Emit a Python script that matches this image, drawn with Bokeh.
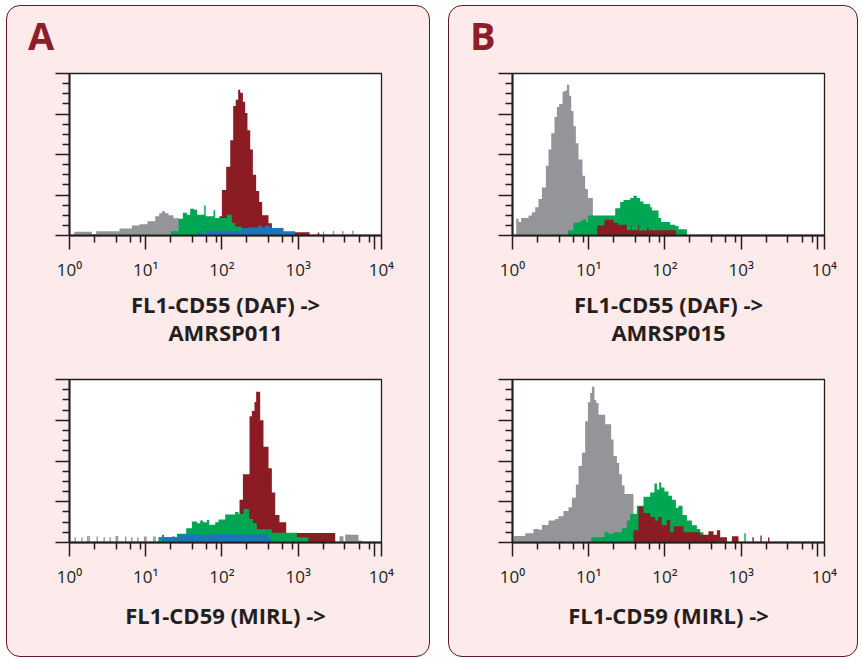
import numpy as np
from bokeh.plotting import figure
from bokeh.models import Range1d, FixedTicker, CustomJSTickFormatter, Column, Row, Div
from bokeh.embed import file_html
from bokeh.resources import INLINE

# ---------------------------------------------------------------- data
# histograms: log10(fluorescence) bin edges and event counts per bin
# Panel A (AMRSP011) - CD55
a55_gray_log = [0.062, 0.294, 0.350, 0.656, 0.818, 0.918, 1.023, 1.124, 1.176, 1.212, 1.255, 1.298, 1.364, 1.439]
a55_gray_n = [3.6, 1.5, 4.2, 6.8, 10, 11, 14, 19, 22, 24, 22, 20, 17]
a55_gray_tail_log = [3.331, 3.462, 3.585, 3.717]
a55_gray_tail_n = [4, 4.5, 4.5, 5]
a55_red_log = [1.967, 1.999, 2.055, 2.108, 2.147, 2.180, 2.212, 2.239, 2.274, 2.304, 2.334, 2.370,
               2.405, 2.448, 2.488, 2.527, 2.610, 2.654, 2.698, 3.148]
a55_red_n = [19, 45, 68, 94, 128, 134, 144, 141, 132, 121, 104, 85, 60, 44, 33, 20, 12, 6, 3.3]
a55_red_tail_log = [3.266]
a55_red_tail_n = [3]
a55_green_log = [1.330, 1.430, 1.487, 1.540, 1.583, 1.635, 1.675, 1.767, 1.786, 1.889, 1.911, 2.064, 2.130, 2.173, 2.261]
a55_green_n = [4.2, 16.6, 22.4, 20.5, 26.3, 25.5, 20.5, 29.6, 19, 25, 17.2, 20.5, 12.6, 9]
a55_blue_log = [1.692, 1.736, 1.802, 2.261, 2.348, 2.479, 2.523, 2.567, 2.632, 2.807, 2.960]
a55_blue_n = [4.5, 1.6, 4.6, 7.5, 8, 10, 8, 10, 7.5, 4.2]

# Panel A (AMRSP011) - CD59
a59_gray_tail_log = [0.075, 0.163, 0.240, 0.258, 0.363, 0.455, 0.534, 0.612, 0.630, 0.737, 0.818, 0.897, 0.985, 1.003, 1.105, 1.123]
a59_gray_tail_n = [5.2, 5.2, 6.5, 6.5, 6, 5.2, 5.2, 6.5, 6.5, 6, 5.2, 5.2, 6, 6, 6, 6]
a59_gray_log = [3.541, 3.593, 3.616, 3.681, 3.790, 3.835]
a59_gray_n = [6.2, 0, 7.8, 7.5, 2]
a59_red_log = [2.230, 2.274, 2.361, 2.392, 2.426, 2.448, 2.501, 2.544, 2.610, 2.654, 2.698, 2.754, 2.842, 3.485]
a59_red_n = [42, 67, 124, 129, 138, 148, 120, 94, 73, 49, 27, 20, 9.4]
a59_green_log = [1.167, 1.409, 1.530, 1.605, 1.671, 1.714, 1.753, 1.802, 1.832, 1.911, 1.954, 2.042, 2.173,
                 2.216, 2.282, 2.357, 2.405, 2.458, 2.654, 2.982, 3.134]
a59_green_n = [5.5, 8.5, 14, 20.5, 19, 21.5, 20, 22, 17.5, 20, 22.5, 27.5, 30, 28, 33, 23, 19, 13, 9.5, 5.2]
a59_blue_log = [1.212, 1.238, 1.343, 1.386, 1.426, 1.714, 1.845, 2.108, 2.610, 2.658]
a59_blue_n = [7.5, 4.5, 6, 4, 7.8, 7.2, 8, 7.8, 3.5]

# Panel B (AMRSP015) - CD55
b55_gray_log = [0.049, 0.079, 0.114, 0.210, 0.254, 0.298, 0.341, 0.386, 0.438, 0.472, 0.508, 0.551, 0.582,
                0.612, 0.656, 0.682, 0.713, 0.744, 0.770, 0.800, 0.831, 0.866, 0.918, 0.953, 0.989, 1.054]
b55_gray_n = [16.6, 13.3, 17.2, 19.8, 23, 28, 36, 47.5, 69, 85, 101, 117, 127, 130, 142, 143, 149, 138,
              123, 108, 91, 75, 59, 46, 37]
b55_green_log = [0.727, 0.800, 0.875, 0.918, 0.963, 0.989, 1.347, 1.412, 1.456, 1.544, 1.587, 1.631, 1.675,
                 1.718, 1.806, 1.828, 1.915, 1.950, 2.068, 2.134, 2.177, 2.287]
b55_green_n = [5.2, 12.7, 14, 16, 13.3, 19.8, 27, 33, 35, 37, 39.3, 37, 33.5, 31, 28, 24.7, 17.2, 13.3, 10.7, 9.4, 6.2]
b55_red_log = [1.111, 1.207, 1.325, 1.382, 1.500, 1.553, 1.566, 1.649, 1.662, 1.767, 1.784, 2.143]
b55_red_n = [10, 15.5, 12.7, 10.7, 5.2, 10, 5.2, 10.7, 5, 8, 5.2]

# Panel B (AMRSP015) - CD59
b59_gray_log = [0.013, 0.167, 0.275, 0.341, 0.386, 0.472, 0.560, 0.603, 0.669, 0.734, 0.779, 0.831, 0.866,
                0.910, 0.953, 0.989, 1.019, 1.041, 1.075, 1.098, 1.128, 1.216, 1.294, 1.325, 1.369, 1.399,
                1.435, 1.469, 1.587]
b59_gray_n = [6.5, 9, 13.3, 12.4, 17.2, 21.5, 23, 25.7, 31, 34.5, 44, 57, 75, 88, 119, 137.6, 146.7, 153,
              140, 137, 125.5, 116, 101, 85, 78, 67, 56, 47.5]
b59_green_log = [1.032, 1.207, 1.259, 1.325, 1.435, 1.500, 1.544, 1.631, 1.718, 1.806, 1.862, 1.894, 1.924,
                 1.950, 1.993, 2.046, 2.091, 2.143, 2.177, 2.230, 2.287, 2.353, 2.418, 2.462, 2.505, 2.580, 2.812]
b59_green_n = [5.2, 10, 8.5, 10, 14, 21.5, 28, 36, 45, 49, 58, 52, 59, 54, 50, 46, 42, 34, 36, 27, 21.5,
               17, 13.3, 10, 6, 3.5]
b59_green_tail_log = [3.050]
b59_green_tail_n = [9]
b59_red_log = [1.587, 1.652, 1.718, 1.806, 1.871, 1.915, 1.959, 2.025, 2.068, 2.112, 2.243, 2.462, 2.570,
               2.636, 2.681, 2.724, 2.812, 2.877, 2.964]
b59_red_n = [12, 35, 29, 25, 21.5, 25, 17, 22, 10, 16, 10, 7.5, 11, 7.5, 12, 5.2, 0, 6.2]
b59_red_tail_log = [3.155, 3.260, 3.360]
b59_red_tail_n = [5.2, 6.8, 5]

# axes
x_tick_values = [1, 10, 100, 1000, 10000]
x_tick_labels = ["10\u2070", "10\u00b9", "10\u00b2", "10\u00b3", "10\u2074"]
x_minor_frac = [0.327, 0.612, 0.800, 0.930]
y_major = [0, 40, 80, 120, 160]
y_minor = [10, 20, 30, 50, 60, 70, 90, 100, 110, 130, 140, 150]

panel_letters = ["A", "B"]
labels_cd55 = ["FL1-CD55 (DAF) ->\nAMRSP011", "FL1-CD55 (DAF) ->\nAMRSP015"]
label_cd59 = "FL1-CD59 (MIRL) ->"

# ---------------------------------------------------------------- style
INK = "#231f20"
PANEL_BG = "#fdeaea"
PANEL_EDGE = "#5e1b22"
LETTER = "#8f1d25"
C_GRAY = "#939598"
C_GREEN = "#00a651"
C_RED = "#8b1c24"
C_BLUE = "#1c75bc"
FONT = "Open Sans"
XMAX = 10 ** 4.092
XEDGE = 10 ** 4.09
CH = 0.018  # one channel width in decades


def add_steps(p, log_edges, counts, color):
    e = 10 ** np.asarray(log_edges, float)
    c = np.asarray(counts, float)
    xs = [e[0]]
    ys = [0.0]
    for i in range(len(c)):
        xs += [e[i], e[i + 1]]
        ys += [c[i], c[i]]
    xs.append(e[-1])
    ys.append(0.0)
    p.patch(xs, ys, fill_color=color, line_color=None)


def add_spikes(p, log_centers, counts, color):
    c = np.asarray(log_centers, float)
    p.quad(left=10 ** (c - CH / 2), right=10 ** (c + CH / 2), bottom=0, top=counts,
           fill_color=color, line_color=None)


def make_hist(width, height, left, right, top, bottom, xlabel, lab_standoff):
    p = figure(width=width, height=height, x_axis_type="log",
               x_range=Range1d(1, XMAX), y_range=Range1d(0, 160),
               output_backend="svg", toolbar_location=None,
               min_border_left=left, min_border_right=right,
               min_border_top=top, min_border_bottom=bottom)
    p.background_fill_color = "white"
    p.border_fill_color = None
    p.outline_line_color = INK
    p.outline_line_width = 1.3
    p.xgrid.visible = False
    p.ygrid.visible = False

    minors = [10 ** (d + f) for d in range(4) for f in x_minor_frac]
    xa = p.xaxis[0]
    xa.ticker = FixedTicker(ticks=x_tick_values + [XEDGE], minor_ticks=minors)
    # the top decade label sits at the right edge of the frame, as in the original
    xa.formatter = CustomJSTickFormatter(args=dict(labels=x_tick_labels), code="""
        const l = Math.log10(tick);
        if (l > labels.length - 0.99) { return labels[labels.length - 1]; }
        const i = Math.round(l);
        if (Math.abs(l - i) > 1e-6 || i < 0 || i >= labels.length - 1) { return ""; }
        return labels[i];
    """)
    xa.major_label_text_font = FONT
    xa.major_label_text_font_size = "17px"
    xa.major_label_text_color = INK
    xa.major_label_standoff = 8
    xa.axis_label = xlabel
    xa.axis_label_text_font = FONT
    xa.axis_label_text_font_size = "22px"
    xa.axis_label_text_font_style = "bold"
    xa.axis_label_text_color = INK
    xa.axis_label_text_line_height = 0.95
    xa.axis_label_standoff = lab_standoff

    ya = p.yaxis[0]
    ya.ticker = FixedTicker(ticks=y_major, minor_ticks=y_minor)
    ya.formatter = CustomJSTickFormatter(code="return '';")
    ya.major_label_text_font_size = "0px"

    for ax in (xa, ya):
        ax.axis_line_color = INK
        ax.axis_line_width = 2
        ax.major_tick_line_color = INK
        ax.minor_tick_line_color = INK
        ax.major_tick_line_width = 1.5
        ax.minor_tick_line_width = 1.5
        ax.major_tick_in = 0
        ax.minor_tick_in = 0
        ax.major_tick_out = 14
        ax.minor_tick_out = 7
    return p


def letter_div(letter, width):
    html = ('<div style="margin:0;padding:11px 0 0 22px;font-family:\'Open Sans\';font-size:38px;'
            'font-weight:bold;line-height:38px;color:%s;">%s</div>' % (LETTER, letter))
    return Div(text=html, width=width, height=64, margin=0)


panel_styles = {
    "background-color": PANEL_BG,
    "border-radius": "14px",
    "outline": "1.5px solid " + PANEL_EDGE,
    "outline-offset": "-1.5px",
}

# ---------------------------------------------------------------- panel A
pa1 = make_hist(424, 281, 63, 49, 4, 113, labels_cd55[0], 5)
add_steps(pa1, a55_gray_log, a55_gray_n, C_GRAY)
add_spikes(pa1, a55_gray_tail_log, a55_gray_tail_n, C_GRAY)
add_steps(pa1, a55_red_log, a55_red_n, C_RED)
add_spikes(pa1, a55_red_tail_log, a55_red_tail_n, C_RED)
add_steps(pa1, a55_green_log, a55_green_n, C_GREEN)
add_steps(pa1, a55_blue_log, a55_blue_n, C_BLUE)

pa2 = make_hist(424, 307, 63, 49, 29, 115, label_cd59, 9)
add_spikes(pa2, a59_gray_tail_log, a59_gray_tail_n, C_GRAY)
add_steps(pa2, a59_gray_log, a59_gray_n, C_GRAY)
add_steps(pa2, a59_red_log, a59_red_n, C_RED)
add_steps(pa2, a59_green_log, a59_green_n, C_GREEN)
add_steps(pa2, a59_blue_log, a59_blue_n, C_BLUE)

# ---------------------------------------------------------------- panel B
pb1 = make_hist(410, 281, 64, 34, 4, 113, labels_cd55[1], 5)
add_steps(pb1, b55_gray_log, b55_gray_n, C_GRAY)
add_steps(pb1, b55_green_log, b55_green_n, C_GREEN)
add_steps(pb1, b55_red_log, b55_red_n, C_RED)

pb2 = make_hist(410, 307, 64, 34, 29, 115, label_cd59, 9)
add_steps(pb2, b59_gray_log, b59_gray_n, C_GRAY)
add_steps(pb2, b59_green_log, b59_green_n, C_GREEN)
add_spikes(pb2, b59_green_tail_log, b59_green_tail_n, C_GREEN)
add_steps(pb2, b59_red_log, b59_red_n, C_RED)
add_spikes(pb2, b59_red_tail_log, b59_red_tail_n, C_RED)

colA = Column(children=[letter_div(panel_letters[0], 424), pa1, pa2], styles=panel_styles)
colB = Column(children=[letter_div(panel_letters[1], 410), pb1, pb2], styles=panel_styles)
root = Row(children=[colA, colB], spacing=18, margin=(5, 0, 0, 6))

open("out.html", "w").write(file_html(root, INLINE, title="Flow cytometry CD55 / CD59"))
